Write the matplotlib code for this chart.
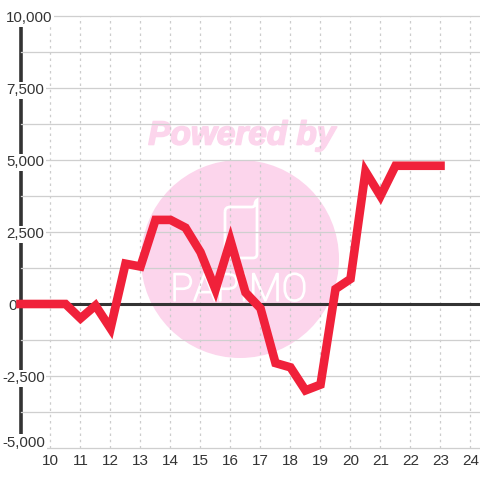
import matplotlib
matplotlib.use("Agg")
import matplotlib.pyplot as plt
import matplotlib.patheffects as pe
from matplotlib.patches import Circle, PathPatch
from matplotlib.path import Path
from matplotlib.transforms import ScaledTranslation

plt.rcParams['font.family'] = ['Liberation Sans', 'DejaVu Sans']

# half hour steps from 9:00 to 23:00
hours = [9, 9.5, 10, 10.5, 11, 11.5, 12, 12.5, 13, 13.5, 14, 14.5, 15, 15.5,
         16, 16.5, 17, 17.5, 18, 18.5, 19, 19.5, 20, 20.5, 21, 21.5, 22, 22.5, 23]
values = [0, 0, 0, 0, -500, -50, -850, 1400, 1300, 2920, 2920, 2650, 1800, 500,
          2200, 400, -150, -2050, -2200, -3000, -2800, 520, 870, 4600, 3750, 4800,
          4800, 4800, 4800]

x_ticks = list(range(10, 25))
y_ticks = [-5000, -2500, 0, 2500, 5000, 7500, 10000]
y_labels = ['-5,000', '-2,500', '0', '2,500', '5,000', '7,500', '10,000']
y_minor = [-3750, -1250, 1250, 3750, 6250, 8750]

fig = plt.figure(figsize=(4.8, 4.8), dpi=100, facecolor='white')

# watermark sits behind the chart, in pixel coordinates
bg = fig.add_axes([0, 0, 1, 1], zorder=0)
bg.set_xlim(0, 480)
bg.set_ylim(480, 0)
bg.axis('off')
pink = '#fcd5ec'
bg.add_patch(Circle((240, 259), 99, color=pink, lw=0))
bg.text(242, 136, 'Powered by', color=pink, fontsize=24, fontweight='bold',
        fontstyle='italic', ha='center', va='center',
        path_effects=[pe.withStroke(linewidth=1.2, foreground=pink)])
phone = Path([(225, 212), (225, 207), (230, 207), (252, 207), (255, 207), (255, 204),
              (255, 201), (257, 200), (257, 203), (257, 254), (257, 258), (253, 258),
              (230, 258), (225, 258), (225, 254), (225, 212)],
             [Path.MOVETO, Path.CURVE3, Path.CURVE3, Path.LINETO, Path.CURVE3, Path.CURVE3,
              Path.CURVE3, Path.CURVE3, Path.LINETO, Path.LINETO, Path.CURVE3, Path.CURVE3,
              Path.LINETO, Path.CURVE3, Path.CURVE3, Path.LINETO])
bg.add_patch(PathPatch(phone, fill=False, edgecolor='white', lw=2))
bg.text(239, 290, 'PAPIMO', color='white', fontsize=27.5, family='Roboto', fontweight='light',
        ha='center', va='center',
        path_effects=[pe.withStroke(linewidth=1.2, foreground='white')])

ax = fig.add_axes([20.5 / 480, 32 / 480, 459.5 / 480, 432 / 480], zorder=1)
ax.patch.set_alpha(0)
ax.set_xlim(9, 24.3167)
ax.set_ylim(-5000, 10000)

ax.set_xticks(x_ticks)
ax.set_yticks(y_ticks)
ax.set_yticklabels(y_labels)
ax.set_yticks(y_minor, minor=True)
ax.grid(axis='x', color='#cccccc', lw=0.9, ls=(0, (2, 3)))
ax.grid(axis='y', which='both', color='#cfcfcf', lw=0.9)
for tick in ax.yaxis.get_major_ticks() + ax.yaxis.get_minor_ticks():
    tick.gridline.set_clip_on(False)

for side in ['top', 'right', 'bottom']:
    ax.spines[side].set_visible(False)
ax.spines['left'].set_color('#333333')
ax.spines['left'].set_linewidth(2.6)
ax.spines['left'].set_zorder(1)

ax.tick_params(which='both', length=0)
ax.tick_params(axis='x', labelsize=11, labelcolor='#333333', pad=4)
ax.tick_params(axis='y', labelsize=10.8, labelcolor='#333333', pad=0)

# labels start left of the axis line and blank it out behind them
offsets = {'-5,000': 2, '-2,500': 2, '0': 8}
for label in ax.get_yticklabels():
    text = label.get_text()
    left = offsets.get(text, 6)
    down = 6.5 if text == '-5,000' else -0.7
    label.set_ha('left')
    label.set_bbox(dict(facecolor='white', edgecolor='none', pad=1.2))
    label.set_transform(label.get_transform() + ScaledTranslation((left - 20.5) / 100, down / 100, fig.dpi_scale_trans))

ax.axhline(0, color='#333333', lw=2.2, zorder=2)
ax.plot(hours, values, color='#f0213a', lw=6.2, solid_joinstyle='miter',
        solid_capstyle='projecting', zorder=3, clip_on=False)

fig.savefig('out.png', dpi=100)
